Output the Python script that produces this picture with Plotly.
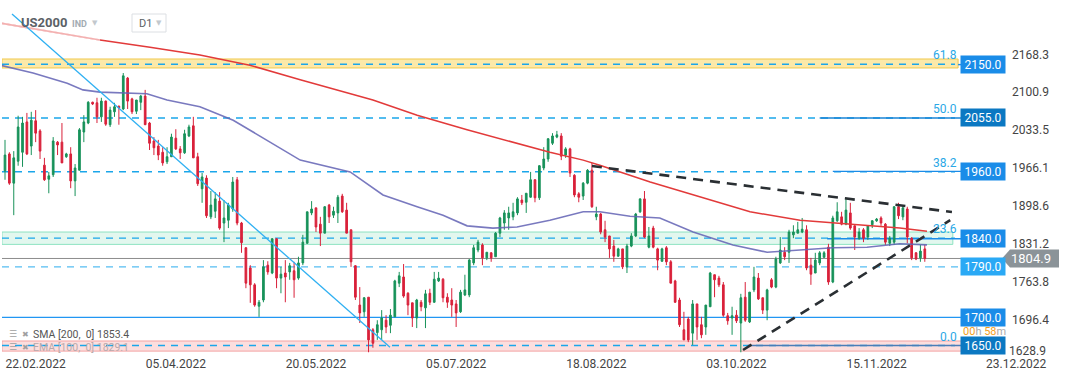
import plotly.graph_objects as go

# ---------------- data ----------------
tick_dates = ["22.02.2022", "05.04.2022", "20.05.2022", "05.07.2022",
              "18.08.2022", "03.10.2022", "15.11.2022", "23.12.2022"]
tick_bars = [7, 39, 71, 103, 135, 167, 199, 231]

ohlc = [
    (1961, 2016, 1945, 1989), (1991, 1994, 1936, 1939), (1939, 1996, 1882, 1984), (1978, 2059, 1970, 2039),
    (1994, 2057, 1968, 2046), (2048, 2064, 1989, 1991), (2005, 2066, 1989, 2051), (2050, 2069, 2012, 2028),
    (2032, 2035, 1982, 1996), (1971, 1984, 1943, 1945), (1946, 1959, 1921, 1952), (1954, 2021, 1950, 2014),
    (2012, 2014, 1989, 2007), (2012, 2046, 1975, 1975), (1986, 1993, 1984, 1991), (1991, 2003, 1930, 1943),
    (1943, 1973, 1916, 1966), (1962, 2037, 1962, 2034), (2030, 2060, 2012, 2048), (2046, 2085, 2044, 2083),
    (2083, 2084, 2078, 2080), (2082, 2091, 2046, 2057), (2057, 2091, 2048, 2085), (2085, 2086, 2041, 2044),
    (2043, 2075, 2039, 2069), (2066, 2082, 2057, 2075), (2076, 2077, 2043, 2073), (2071, 2135, 2069, 2130),
    (2126, 2128, 2071, 2085), (2089, 2091, 2062, 2066), (2067, 2087, 2062, 2087), (2083, 2096, 2069, 2094),
    (2094, 2105, 2043, 2043), (2046, 2048, 1998, 2010), (2014, 2021, 1989, 2002), (2005, 2016, 1980, 1989),
    (1994, 2003, 1970, 1975), (1977, 2003, 1973, 1986), (1986, 2027, 1986, 2021), (2019, 2035, 1998, 2000),
    (2000, 2005, 1982, 1993), (1993, 2034, 1991, 2027), (2023, 2043, 2021, 2039), (2041, 2057, 1984, 1984),
    (1986, 1993, 1934, 1938), (1929, 1957, 1904, 1950), (1948, 1953, 1877, 1881), (1879, 1925, 1875, 1900),
    (1889, 1923, 1877, 1911), (1907, 1923, 1856, 1859), (1868, 1909, 1834, 1877), (1873, 1904, 1859, 1900),
    (1893, 1950, 1888, 1941), (1945, 1950, 1864, 1868), (1868, 1870, 1815, 1833), (1824, 1825, 1752, 1761),
    (1788, 1793, 1726, 1758), (1758, 1761, 1719, 1722), (1720, 1731, 1701, 1727), (1731, 1802, 1727, 1790),
    (1793, 1800, 1776, 1781), (1779, 1841, 1777, 1840), (1840, 1841, 1752, 1770), (1770, 1790, 1743, 1777),
    (1779, 1802, 1727, 1772), (1781, 1797, 1767, 1792), (1783, 1799, 1735, 1767), (1770, 1808, 1767, 1797),
    (1797, 1847, 1793, 1834), (1832, 1888, 1831, 1888), (1886, 1907, 1882, 1893), (1895, 1895, 1852, 1861),
    (1866, 1879, 1827, 1850), (1850, 1898, 1850, 1897), (1900, 1902, 1868, 1879), (1882, 1897, 1877, 1889),
    (1886, 1918, 1868, 1914), (1916, 1920, 1886, 1888), (1891, 1904, 1850, 1850), (1856, 1856, 1790, 1799),
    (1792, 1793, 1731, 1736), (1722, 1754, 1690, 1708), (1710, 1736, 1701, 1735), (1736, 1736, 1638, 1660),
    (1678, 1681, 1646, 1654), (1673, 1695, 1660, 1687), (1678, 1713, 1660, 1699), (1695, 1704, 1672, 1683),
    (1686, 1715, 1672, 1704), (1701, 1767, 1701, 1765), (1761, 1781, 1754, 1774), (1772, 1795, 1735, 1738),
    (1743, 1745, 1704, 1722), (1726, 1726, 1683, 1699), (1699, 1733, 1681, 1731), (1727, 1731, 1711, 1719),
    (1717, 1749, 1681, 1742), (1743, 1751, 1722, 1727), (1727, 1781, 1726, 1768), (1765, 1781, 1763, 1770),
    (1768, 1770, 1727, 1735), (1736, 1743, 1717, 1727), (1731, 1752, 1701, 1722), (1724, 1731, 1683, 1708),
    (1710, 1749, 1708, 1745), (1740, 1776, 1738, 1749), (1740, 1804, 1736, 1802), (1797, 1829, 1793, 1824),
    (1820, 1838, 1816, 1834), (1829, 1832, 1793, 1806), (1806, 1816, 1802, 1816), (1815, 1816, 1799, 1806),
    (1808, 1852, 1808, 1850), (1850, 1879, 1843, 1877), (1868, 1891, 1856, 1886), (1877, 1897, 1856, 1886),
    (1879, 1904, 1873, 1888), (1886, 1914, 1882, 1911), (1909, 1918, 1900, 1904), (1905, 1921, 1886, 1921),
    (1914, 1959, 1913, 1945), (1945, 1946, 1905, 1913), (1913, 1971, 1909, 1970), (1966, 2003, 1962, 1982),
    (1982, 2019, 1977, 2018), (2010, 2028, 2007, 2023), (2021, 2032, 2019, 2025), (2023, 2028, 1980, 1987),
    (1989, 2003, 1984, 2000), (2000, 2002, 1950, 1957), (1953, 1955, 1914, 1918), (1920, 1923, 1905, 1914),
    (1916, 1941, 1909, 1939), (1939, 1964, 1937, 1962), (1962, 1975, 1895, 1897), (1879, 1897, 1873, 1884),
    (1884, 1886, 1848, 1852), (1856, 1872, 1834, 1843), (1845, 1845, 1806, 1822), (1827, 1838, 1799, 1809),
    (1809, 1824, 1808, 1822), (1822, 1822, 1786, 1790), (1790, 1831, 1779, 1827), (1827, 1850, 1825, 1845),
    (1845, 1886, 1843, 1884), (1888, 1912, 1886, 1911), (1911, 1925, 1841, 1843), (1825, 1861, 1823, 1845),
    (1859, 1863, 1823, 1825), (1822, 1824, 1784, 1802), (1800, 1824, 1799, 1822), (1824, 1827, 1793, 1799),
    (1799, 1802, 1761, 1761), (1765, 1767, 1726, 1727), (1731, 1735, 1683, 1687), (1678, 1710, 1660, 1660),
    (1697, 1701, 1656, 1660), (1672, 1731, 1651, 1724), (1724, 1724, 1660, 1683), (1687, 1701, 1663, 1669),
    (1683, 1722, 1669, 1722), (1719, 1781, 1719, 1779), (1776, 1776, 1736, 1767), (1770, 1774, 1754, 1758),
    (1758, 1763, 1701, 1704), (1703, 1708, 1687, 1694), (1699, 1719, 1669, 1703), (1704, 1713, 1690, 1694),
    (1690, 1742, 1638, 1735), (1736, 1763, 1692, 1695), (1692, 1745, 1690, 1745), (1749, 1790, 1745, 1772),
    (1770, 1779, 1731, 1733), (1735, 1735, 1706, 1713), (1713, 1751, 1695, 1749), (1767, 1770, 1752, 1754),
    (1754, 1808, 1752, 1804), (1797, 1843, 1795, 1820), (1816, 1825, 1802, 1808), (1816, 1856, 1797, 1852),
    (1847, 1864, 1841, 1852), (1850, 1870, 1850, 1856), (1852, 1877, 1850, 1857), (1856, 1864, 1784, 1788),
    (1793, 1806, 1758, 1777), (1779, 1815, 1779, 1802), (1797, 1818, 1793, 1815), (1807, 1818, 1806, 1815),
    (1825, 1831, 1758, 1763), (1763, 1881, 1761, 1877), (1872, 1905, 1870, 1888), (1879, 1888, 1864, 1866),
    (1866, 1913, 1864, 1891), (1886, 1904, 1856, 1859), (1863, 1864, 1820, 1843), (1841, 1859, 1838, 1852),
    (1856, 1859, 1834, 1841), (1843, 1864, 1838, 1863), (1865, 1873, 1859, 1872), (1872, 1877, 1870, 1875),
    (1877, 1880, 1863, 1868), (1866, 1868, 1829, 1834), (1832, 1845, 1827, 1841), (1834, 1898, 1829, 1897),
    (1897, 1904, 1875, 1881), (1879, 1900, 1873, 1895), (1893, 1897, 1832, 1843), (1841, 1843, 1802, 1806),
    (1815, 1816, 1802, 1804), (1806, 1829, 1799, 1818), (1822, 1829, 1799, 1804.9),
]
opens = [r[0] for r in ohlc]
highs = [r[1] for r in ohlc]
lows = [r[2] for r in ohlc]
closes = [r[3] for r in ohlc]
bars = list(range(len(ohlc)))

sma_bars = [-1.14, 21.7, 33.1, 44.5, 55.9, 67.4, 84.0, 94.1, 105.5, 116.9, 124.4, 132.0,
            135.8, 147.3, 158.7, 170.1, 181.5, 192.9, 204.3, 210.5]
sma_vals = [2224, 2194, 2181, 2167, 2149, 2123, 2087, 2060, 2034, 2010, 1994, 1980,
            1971, 1941, 1914, 1888, 1873, 1866, 1859, 1853.4]
ema_bars = [-1.14, 6.4, 14.2, 17.8, 21.7, 32.4, 37.0, 44.5, 52.1, 59.8, 67.4, 78.8, 86.3,
            94.1, 100.0, 105.5, 111.4, 116.9, 124.4, 132.0, 135.8, 142.7, 149.5, 157.1,
            166.2, 174.0, 181.5, 189.0, 196.8, 204.3, 210.5]
ema_vals = [2149, 2135, 2117, 2105, 2101, 2098, 2087, 2075, 2051, 2016, 1980, 1959, 1918,
            1897, 1882, 1863, 1859, 1861, 1873, 1888, 1888, 1880, 1877, 1852,
            1829, 1816, 1820, 1824, 1825, 1831, 1829.1]
sma_last, ema_last = 1853.4, 1829.1
last_price = 1804.9

blue_trend_bars, blue_trend_vals = [1.6, 87.9], [2240, 1647]
upper_trend_bars, upper_trend_vals = [134.0, 216.2], [1969.5, 1887.6]
lower_trend_bars, lower_trend_vals = [168.5, 215.8], [1642, 1873]

price_ticks = [2168.3, 2100.9, 2033.5, 1966.1, 1898.6, 1831.2, 1763.8, 1696.4]
bottom_tick = 1628.9

fib_levels = [2150.6, 2055.0, 1959.4, 1841.2, 1650.0]
fib_names = ["61.8", "50.0", "38.2", "23.6", "0.0"]

level_values = [2150.0, 2055.0, 1960.0, 1840.0, 1790.0, 1700.0, 1650.0]
level_solid_from = [217.6, 186.0, 189.0, 187.7, None, -0.7, 169.6]
band_ranges = [(2144, 2160), (1830, 1852), (1640, 1658)]

# ---------------- styles / layout geometry ----------------
FONT = "Roboto"
X0, X1 = -0.685, 239.04
Y0, Y1 = 1633.1, 2265.0
PLOT_L, PLOT_W, PLOT_H = 2, 1050, 355


def px(x):
    return (x - PLOT_L) / PLOT_W


def py(y):
    return 1 - y / PLOT_H


INC, DEC = "#18925a", "#d9213a"
FIB_C = "#1aa6ea"
label_bg = ["#1a8ce8", "#0b78c2", "#1a8ce8", "#1a8ce8", "#2aa9f5", "#1a8ce8", "#0b78c2"]
band_styles = [("#fce9a9", "#f1c94e", 217.6), ("#e2f7ee", "#8ee3c2", 216.4), ("#fcdede", "#f3a3a3", 219.4)]
solid_colors = ["#1a8ce8", "#1a84d6", "#1a8ce8", "#1a8ce8", None, "#2196f3", "#4a7db8"]

fig = go.Figure()

shapes = []
for (lo, hi), (fill, edge, xend) in zip(band_ranges, band_styles):
    shapes.append(dict(type="rect", xref="x", yref="y", x0=X0, x1=xend, y0=lo, y1=hi,
                       fillcolor=fill, line=dict(color=edge, width=1), layer="below"))
for lv in fib_levels:
    shapes.append(dict(type="line", xref="x", yref="y", x0=X0, x1=216.9, y0=lv, y1=lv,
                       line=dict(color=FIB_C, width=1.4, dash="7px,6px"), layer="below"))
for lv, start, col in zip(level_values, level_solid_from, solid_colors):
    if start is None:
        shapes.append(dict(type="line", xref="x", yref="y", x0=X0, x1=218.5, y0=lv, y1=lv,
                           line=dict(color="#55bdf2", width=1.4, dash="7px,6px"), layer="below"))
    else:
        shapes.append(dict(type="line", xref="x", yref="y", x0=start, x1=218.5, y0=lv, y1=lv,
                           line=dict(color=col, width=1.4), layer="below"))
# last price line
shapes.append(dict(type="line", xref="x", yref="y", x0=X0, x1=227.6, y0=last_price, y1=last_price,
                   line=dict(color="#8c8c8c", width=1), layer="below"))
# last price tag
xt, xl, xr = px(1002), px(1010), px(1059)
shapes.append(dict(type="path", xref="paper", yref="y",
                   path=f"M {xt},{last_price} L {xl},{last_price + 16} L {xr},{last_price + 16} "
                        f"L {xr},{last_price - 16} L {xl},{last_price - 16} Z",
                   fillcolor="#8b9398", line=dict(width=0), layer="above"))
# D1 box
shapes.append(dict(type="rect", xref="paper", yref="paper", x0=px(132), x1=px(166), y0=py(32), y1=py(14),
                   fillcolor="white", line=dict(color="#dcdfe3", width=1), layer="above"))

fig.add_trace(go.Scatter(x=ema_bars, y=ema_vals, mode="lines",
                         line=dict(color="rgba(98,98,180,0.85)", width=1.6), hoverinfo="skip"))
fig.add_trace(go.Scatter(x=sma_bars, y=sma_vals, mode="lines",
                         line=dict(color="#e23a3a", width=1.5), hoverinfo="skip"))
# faded start of the SMA under the header
fig.add_trace(go.Scatter(x=sma_bars[:2], y=sma_vals[:2], mode="lines",
                         line=dict(color="rgba(255,255,255,0.6)", width=2.2), hoverinfo="skip"))
fig.add_trace(go.Candlestick(
    x=bars, open=opens, high=highs, low=lows, close=closes,
    increasing=dict(line=dict(color=INC, width=1), fillcolor=INC),
    decreasing=dict(line=dict(color=DEC, width=1), fillcolor=DEC),
    whiskerwidth=0, hoverinfo="skip"))
fig.add_trace(go.Scatter(x=blue_trend_bars, y=blue_trend_vals, mode="lines",
                         line=dict(color="#2fb0f2", width=1.3), hoverinfo="skip"))
for xb, yv in [(upper_trend_bars, upper_trend_vals), (lower_trend_bars, lower_trend_vals)]:
    fig.add_trace(go.Scatter(x=xb, y=yv, mode="lines",
                             line=dict(color="#2a2f33", width=2.6, dash="10px,7px"), hoverinfo="skip"))

ann = []
for lv, name in zip(fib_levels, fib_names):
    ann.append(dict(x=px(959), xref="paper", y=lv, yref="y", text=name, showarrow=False,
                    xanchor="right", yanchor="bottom", yshift=0,
                    font=dict(family=FONT, size=12, color="#2aa8e6")))
for lv, bg in zip(level_values, label_bg):
    ann.append(dict(x=px(983), xref="paper", y=lv, yref="y", text=f"{lv:.1f}", showarrow=False,
                    xanchor="center", yanchor="middle", bgcolor=bg, width=42, height=15,
                    font=dict(family=FONT, size=12, color="white")))
ann.append(dict(x=px(1031), xref="paper", y=last_price, yref="y", text=f"{last_price:.1f}",
                showarrow=False, xanchor="center", yanchor="middle",
                font=dict(family=FONT, size=13, color="white")))
ann.append(dict(x=px(1048), xref="paper", y=py(351), yref="paper", text=f"{bottom_tick:.1f}",
                showarrow=False, xanchor="right", yanchor="middle",
                font=dict(family=FONT, size=12, color="#444")))
# last date label (right end of the time axis)
ann.append(dict(x=tick_bars[-1], xref="x", y=py(364), yref="paper", text=tick_dates[-1],
                showarrow=False, xanchor="center", yanchor="middle",
                font=dict(family=FONT, size=12, color="#444")))
# countdown to candle close
ann.append(dict(x=px(961), xref="paper", y=py(331), yref="paper",
                text="<span style='color:#f5a01a'>00</span><span style='color:#aaa'>h</span> "
                     "<span style='color:#f5a01a'>58</span><span style='color:#aaa'>m</span>",
                showarrow=False, xanchor="left", yanchor="middle",
                font=dict(family=FONT, size=11, color="#aaa")))
# header
ann.append(dict(x=px(19), xref="paper", y=py(22), yref="paper", text="<b>US2000</b>", showarrow=False,
                xanchor="left", yanchor="middle", font=dict(family=FONT, size=13, color="#5b6166")))
ann.append(dict(x=px(70), xref="paper", y=py(24), yref="paper", text="<b>IND</b>", showarrow=False,
                xanchor="left", yanchor="middle", font=dict(family=FONT, size=9, color="#a3abb2")))
for xx in (95, 159):
    ann.append(dict(x=px(xx), xref="paper", y=py(23), yref="paper", text="▼", showarrow=False,
                    xanchor="center", yanchor="middle", font=dict(family="DejaVu Sans", size=7, color="#c3c8cd")))
ann.append(dict(x=px(137), xref="paper", y=py(23), yref="paper", text="D1", showarrow=False,
                xanchor="left", yanchor="middle", font=dict(family=FONT, size=11, color="#5b6166")))
# indicator legend
for yy, txt, col in [(334, f"SMA [200,  0] {sma_last}", "#555"), (347, f"EMA [100,  0] {ema_last}", "#b9a9ab")]:
    ann.append(dict(x=px(7), xref="paper", y=py(yy), yref="paper", text="☰", showarrow=False,
                    xanchor="left", yanchor="middle", font=dict(family="DejaVu Sans", size=9, color="#a0a0a0")))
    ann.append(dict(x=px(20), xref="paper", y=py(yy), yref="paper", text="✖", showarrow=False,
                    xanchor="left", yanchor="middle", font=dict(family="DejaVu Sans", size=8, color="#a0a0a0")))
    ann.append(dict(x=px(31), xref="paper", y=py(yy), yref="paper", text=txt, showarrow=False,
                    xanchor="left", yanchor="middle", font=dict(family=FONT, size=10.5, color=col)))

fig.update_layout(
    width=1072, height=382,
    margin=dict(l=PLOT_L, r=1072 - PLOT_L - PLOT_W, t=0, b=382 - PLOT_H, pad=0),
    paper_bgcolor="white", plot_bgcolor="white",
    showlegend=False, boxgap=0.45,
    font=dict(family=FONT, size=12, color="#444"),
    shapes=shapes, annotations=ann,
    xaxis=dict(range=[X0, X1], tickvals=tick_bars[:-1], ticktext=tick_dates[:-1], showgrid=False,
               zeroline=False, showline=False, ticks="", rangeslider=dict(visible=False),
               tickfont=dict(family=FONT, size=12, color="#444"), fixedrange=True),
    yaxis=dict(range=[Y0, Y1], side="right", ticklabelposition="inside", tickvals=price_ticks,
               ticktext=[f"{v:.1f}" for v in price_ticks], showgrid=False, zeroline=False,
               showline=False, ticks="", tickfont=dict(family=FONT, size=12, color="#444"),
               fixedrange=True),
)

fig.write_html("out.html", config={"displayModeBar": False},
               post_script="document.body.style.margin='0';")
